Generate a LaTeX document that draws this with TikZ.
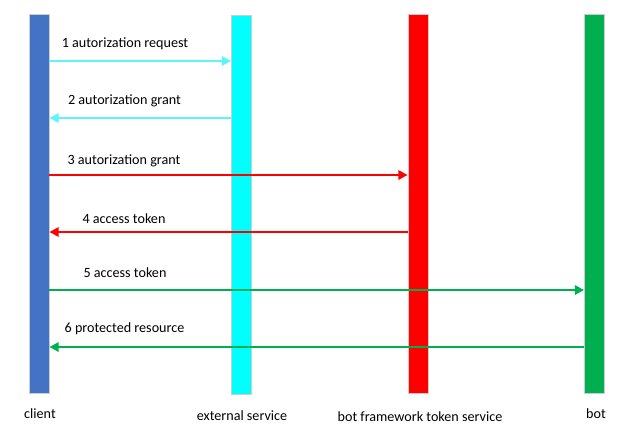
\documentclass[tikz,border=0pt]{standalone}
\usepackage{fontspec}
\setmainfont{Carlito}
\usetikzlibrary{arrows.meta}

\definecolor{clientblue}{HTML}{4472C4}
\definecolor{extcyan}{HTML}{00FFFF}
\definecolor{msgcyan}{HTML}{5CF5FF}
\definecolor{tokred}{HTML}{FF0000}
\definecolor{botgreen}{HTML}{00B050}

\tikzset{
    bar/.style={shape=rectangle, draw=black!20, line width=0.6pt, minimum width=15pt, minimum height=284pt, inner sep=0pt},
    lbl/.style={font=\fontsize{10.6}{12}\selectfont},
    msg/.style={font=\fontsize{10.6}{12}\selectfont},
    call/.style={line width=2pt, -{Triangle[length=7pt,width=7pt]}}
}

\begin{document}
\begin{tikzpicture}[x=0.75pt, y=-0.75pt]
    \useasboundingbox (0,0) rectangle (623,432);

    \node[bar, fill=clientblue] (client) at (39,204) {};
    \node[bar, fill=extcyan] (ext) at (241.5,205) {};
    \node[bar, fill=tokred] (token) at (418,204) {};
    \node[bar, fill=botgreen] (bot) at (594.5,204) {};

    \node[lbl] (clientname) at (40,414) {client};
    \node[lbl] (extname) at (242,416) {external service};
    \node[lbl] (tokenname) at (420,417) {bot framework token service};
    \node[lbl] (botname) at (596,414) {bot};

    \coordinate (m1) at (0,61);
    \coordinate (m2) at (0,118);
    \coordinate (m3) at (0,175);
    \coordinate (m4) at (0,232);
    \coordinate (m5) at (0,290);
    \coordinate (m6) at (0,347);

    \path [call, msgcyan] (client.east |- m1) edge (ext.west |- m1);
    \path [call, msgcyan] (ext.west |- m2) edge (client.east |- m2);
    \path [call, tokred] (client.east |- m3) edge (token.west |- m3);
    \path [call, tokred] (token.west |- m4) edge (client.east |- m4);
    \path [call, botgreen] (client.east |- m5) edge (bot.west |- m5);
    \path [call, botgreen] (bot.west |- m6) edge (client.east |- m6);

    \node[msg] (t1) at (125,44) {1 autorization request};
    \node[msg] (t2) at (124.5,101) {2 autorization grant};
    \node[msg] (t3) at (124,161) {3 autorization grant};
    \node[msg] (t4) at (124,219) {4 access token};
    \node[msg] (t5) at (125,273) {5 access token};
    \node[msg] (t6) at (124.5,329) {6 protected resource};
\end{tikzpicture}
\end{document}
